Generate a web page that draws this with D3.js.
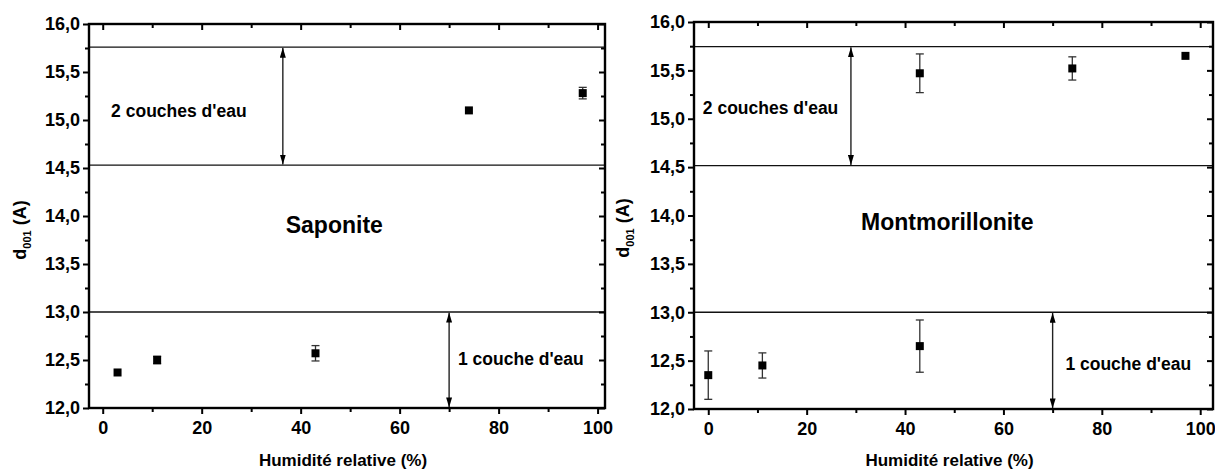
<!DOCTYPE html>
<html>
<head>
<meta charset="utf-8">
<script src="https://cdn.jsdelivr.net/npm/d3@7"></script>
<style>
  body { margin: 0; background: #fff; }
  text { font-family: "Liberation Sans", Arial, sans-serif; font-weight: bold; fill: #000; }
</style>
</head>
<body>
<div id="chart"></div>
<script>
////////////// DATA //////////////

// Saponite
const humiditySap = [3, 11, 43, 74, 97];
const d001Sap = [12.37, 12.50, 12.57, 15.10, 15.28];
const errSap = [0.01, 0.04, 0.08, 0.01, 0.06];
const levelsSap = [15.76, 14.53, 13.0];

// Montmorillonite
const humidityMont = [0, 11, 43, 43, 74, 97];
const d001Mont = [12.35, 12.45, 12.65, 15.47, 15.52, 15.65];
const errMont = [0.25, 0.13, 0.27, 0.20, 0.12, 0.01];
const levelsMont = [15.745, 14.515, 13.0];

const xTicks = [0, 20, 40, 60, 80, 100];
const xMinor = [10, 30, 50, 70, 90];
const yTicks = [12, 12.5, 13, 13.5, 14, 14.5, 15, 15.5, 16];
const yMinor = [12.25, 12.75, 13.25, 13.75, 14.25, 14.75, 15.25, 15.75];

const fmt = d3.formatLocale({ decimal: ",", thousands: " ", grouping: [3], currency: ["", ""] }).format(".1f");

const svg = d3.select("#chart").append("svg")
    .attr("width", 1215)
    .attr("height", 472);

const defs = svg.append("defs");
defs.append("marker")
    .attr("id", "arrow")
    .attr("viewBox", "0 0 10 6")
    .attr("refX", 10)
    .attr("refY", 3)
    .attr("markerWidth", 10)
    .attr("markerHeight", 6)
    .attr("markerUnits", "userSpaceOnUse")
    .attr("orient", "auto-start-reverse")
    .append("path")
    .attr("d", "M0,0 L10,3 L0,6 Z")
    .attr("fill", "#000");

function drawPanel(cfg) {
    const x = d3.scaleLinear().domain(cfg.xDomain).range(cfg.xRange);
    const y = d3.scaleLinear().domain([12, 16]).range(cfg.yRange);
    const g = svg.append("g");

    const [x0, x1] = cfg.xRange;
    const [yb, yt] = cfg.yRange;

    // layer boundaries
    g.selectAll("line.level")
        .data(cfg.levels)
        .enter().append("line")
        .attr("class", "level")
        .attr("x1", x0).attr("x2", x1)
        .attr("y1", d => y(d)).attr("y2", d => y(d))
        .attr("stroke", "#111")
        .attr("stroke-width", 1.3);

    // double arrows
    const arrows = [
        { x: cfg.arrowTop, from: cfg.levels[0], to: cfg.levels[1] },
        { x: 70, from: cfg.levels[2], to: 12 }
    ];
    g.selectAll("line.arrow")
        .data(arrows)
        .enter().append("line")
        .attr("class", "arrow")
        .attr("x1", d => x(d.x)).attr("x2", d => x(d.x))
        .attr("y1", d => y(d.from) + 0.6).attr("y2", d => y(d.to) - 0.6)
        .attr("stroke", "#222")
        .attr("stroke-width", 1.4)
        .attr("marker-start", "url(#arrow)")
        .attr("marker-end", "url(#arrow)");

    // error bars
    const pts = cfg.hum.map((h, i) => ({ h: h, d: cfg.d001[i], e: cfg.err[i] }));
    const eb = g.selectAll("g.err")
        .data(pts.filter(p => p.e > 0.02))
        .enter().append("g")
        .attr("class", "err")
        .attr("stroke", "#333")
        .attr("stroke-width", 1.3);
    eb.append("line")
        .attr("x1", p => x(p.h)).attr("x2", p => x(p.h))
        .attr("y1", p => y(p.d - p.e)).attr("y2", p => y(p.d + p.e));
    eb.append("line")
        .attr("x1", p => x(p.h) - 4).attr("x2", p => x(p.h) + 4)
        .attr("y1", p => y(p.d + p.e)).attr("y2", p => y(p.d + p.e));
    eb.append("line")
        .attr("x1", p => x(p.h) - 4).attr("x2", p => x(p.h) + 4)
        .attr("y1", p => y(p.d - p.e)).attr("y2", p => y(p.d - p.e));

    // points
    g.selectAll("rect.pt")
        .data(pts)
        .enter().append("rect")
        .attr("class", "pt")
        .attr("x", p => x(p.h) - 4)
        .attr("y", p => y(p.d) - 4)
        .attr("width", 8)
        .attr("height", 8)
        .attr("fill", "#000");

    // axes: bottom/left outward with labels, top/right inward
    const axisStyle = sel => {
        sel.select(".domain").remove();
        sel.selectAll("line").attr("stroke", "#000").attr("stroke-width", 2);
        sel.selectAll("text").style("font-size", "18px");
    };

    g.append("g").attr("transform", `translate(0,${yb})`)
        .call(d3.axisBottom(x).tickValues(xTicks).tickSize(6).tickPadding(7).tickFormat(d3.format("d")))
        .call(axisStyle);
    g.append("g").attr("transform", `translate(0,${yb})`)
        .call(d3.axisBottom(x).tickValues(xMinor).tickSize(4).tickFormat(""))
        .call(axisStyle);
    g.append("g").attr("transform", `translate(0,${yt})`)
        .call(d3.axisBottom(x).tickValues(xTicks).tickSize(6).tickFormat(""))
        .call(axisStyle);
    g.append("g").attr("transform", `translate(0,${yt})`)
        .call(d3.axisBottom(x).tickValues(xMinor).tickSize(4).tickFormat(""))
        .call(axisStyle);

    g.append("g").attr("transform", `translate(${x0},0)`)
        .call(d3.axisLeft(y).tickValues(yTicks).tickSize(6).tickPadding(3).tickFormat(fmt))
        .call(axisStyle);
    g.append("g").attr("transform", `translate(${x0},0)`)
        .call(d3.axisLeft(y).tickValues(yMinor).tickSize(4).tickFormat(""))
        .call(axisStyle);
    g.append("g").attr("transform", `translate(${x1},0)`)
        .call(d3.axisLeft(y).tickValues(yTicks).tickSize(6).tickFormat(""))
        .call(axisStyle);
    g.append("g").attr("transform", `translate(${x1},0)`)
        .call(d3.axisLeft(y).tickValues(yMinor).tickSize(4).tickFormat(""))
        .call(axisStyle);

    // frame
    g.append("rect")
        .attr("x", x0).attr("y", yt)
        .attr("width", x1 - x0).attr("height", yb - yt)
        .attr("fill", "none")
        .attr("stroke", "#000")
        .attr("stroke-width", 2.4);

    // annotations
    g.append("text")
        .attr("x", x(cfg.upperLabel[0])).attr("y", y(cfg.upperLabel[1]))
        .attr("dy", "0.35em")
        .style("font-size", "17.5px")
        .text("2 couches d'eau");
    g.append("text")
        .attr("x", x(cfg.lowerLabel[0])).attr("y", y(cfg.lowerLabel[1]))
        .attr("dy", "0.35em")
        .style("font-size", "17.5px")
        .text("1 couche d'eau");
    g.append("text")
        .attr("x", x(cfg.titlePos[0])).attr("y", y(cfg.titlePos[1]))
        .attr("dy", "0.35em")
        .attr("text-anchor", "middle")
        .style("font-size", "23px")
        .text(cfg.title);

    // axis titles
    g.append("text")
        .attr("x", (x0 + x1) / 2 - 4).attr("y", 466)
        .attr("text-anchor", "middle")
        .style("font-size", "17px")
        .text("Humidité relative (%)");

    const yl = g.append("text")
        .attr("transform", `translate(${cfg.yLabelX},${cfg.yLabelY}) rotate(-90)`)
        .attr("text-anchor", "middle")
        .style("font-size", "18px");
    yl.append("tspan").text("d");
    yl.append("tspan").attr("dy", 5).style("font-size", "11px").text("001");
    yl.append("tspan").attr("dy", -5).text(" (A)");
}

drawPanel({
    title: "Saponite",
    hum: humiditySap, d001: d001Sap, err: errSap, levels: levelsSap,
    xDomain: [-2.77, 101.5], xRange: [89, 605], yRange: [408, 24],
    arrowTop: 36.4,
    upperLabel: [1.7, 15.1], lowerLabel: [71.8, 12.51], titlePos: [46.8, 13.91],
    yLabelX: 26, yLabelY: 230
});

drawPanel({
    title: "Montmorillonite",
    hum: humidityMont, d001: d001Mont, err: errMont, levels: levelsMont,
    xDomain: [-2.9, 102.6], xRange: [694, 1213], yRange: [409, 22],
    arrowTop: 29,
    upperLabel: [-1.1, 15.11], lowerLabel: [72.6, 12.47], titlePos: [48.6, 13.93],
    yLabelX: 629, yLabelY: 228
});
</script>
</body>
</html>
